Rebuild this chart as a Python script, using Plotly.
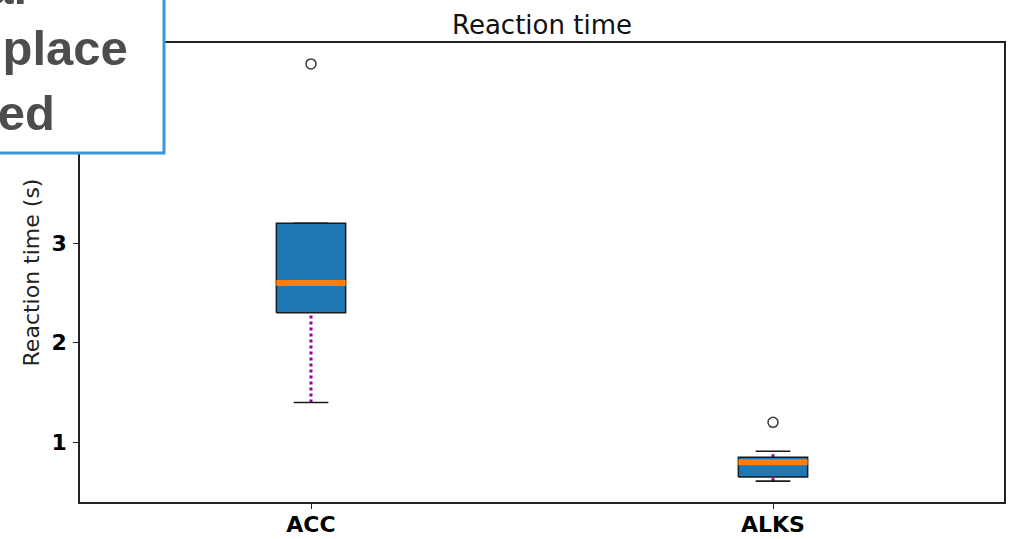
import plotly.graph_objects as go

# Summary statistics of reaction time per system (seconds)
categories = ["ACC", "ALKS"]
positions = [1, 2]
q1 = [2.30, 0.65]
median = [2.60, 0.80]
q3 = [3.20, 0.85]
whisker_low = [1.40, 0.61]
whisker_high = [3.20, 0.91]
outliers = [[4.80], [1.20]]
y_ticks = [1, 2, 3]

BOX_W = 0.15
BOX_FILL = "#1f77b4"
MEDIAN_COLOR = "#ff7f0e"
WHISKER_COLOR = "#9a009a"
EDGE = "#1a1a1a"

fig = go.Figure()

for p, a, m, b, lo, hi, out in zip(positions, q1, median, q3,
                                   whisker_low, whisker_high, outliers):
    h = BOX_W / 2
    c = BOX_W / 4
    # whiskers (dotted)
    fig.add_trace(go.Scatter(x=[p, p, None, p, p], y=[lo, a, None, b, hi],
                             mode="lines",
                             line=dict(color=WHISKER_COLOR, width=3, dash="dot"),
                             hoverinfo="skip"))
    # caps
    fig.add_trace(go.Scatter(x=[p - c, p + c, None, p - c, p + c],
                             y=[lo, lo, None, hi, hi], mode="lines",
                             line=dict(color=EDGE, width=1.6),
                             hoverinfo="skip"))
    # box
    fig.add_trace(go.Scatter(x=[p - h, p + h, p + h, p - h, p - h],
                             y=[a, a, b, b, a], mode="lines", fill="toself",
                             fillcolor=BOX_FILL,
                             line=dict(color=EDGE, width=1.5),
                             hoverinfo="skip"))
    # median
    fig.add_trace(go.Scatter(x=[p - h, p + h], y=[m, m], mode="lines",
                             line=dict(color=MEDIAN_COLOR, width=6),
                             hoverinfo="skip"))
    # fliers
    fig.add_trace(go.Scatter(x=[p] * len(out), y=out, mode="markers",
                             marker=dict(symbol="circle-open", size=10,
                                         color="#3a3a3a",
                                         line=dict(width=1.5, color="#3a3a3a")),
                             hoverinfo="skip"))

axis_common = dict(showline=True, linecolor="#222222", linewidth=1.5,
                   mirror=True, ticks="outside", ticklen=5, tickwidth=1.2,
                   tickcolor="#222222", showgrid=False, zeroline=False,
                   automargin=False)

fig.update_xaxes(range=[0.5, 2.5], tickvals=positions, ticktext=categories,
                 tickfont=dict(family="DejaVu Sans", size=22, color="black",
                               weight="bold"),
                 ticklabelstandoff=-3, **axis_common)
fig.update_yaxes(range=[0.40, 5.01], tickvals=y_ticks,
                 ticktext=[str(t) for t in y_ticks],
                 tickfont=dict(family="DejaVu Sans", size=22, color="black",
                               weight="bold"),
                 ticklabelstandoff=2,
                 title=dict(text="Reaction time (s)",
                            font=dict(family="DejaVu Sans", size=22,
                                      color="#222222"),
                            standoff=6),
                 **axis_common)

# Note panel in the upper-left corner
PLOT_L, PLOT_R, PLOT_T, PLOT_B = 80, 1004, 43, 502


def px_x(v):
    return (v - PLOT_L) / (PLOT_R - PLOT_L)


def px_y(v):
    return (PLOT_B - v) / (PLOT_B - PLOT_T)


fig.add_shape(type="rect", xref="paper", yref="paper",
              x0=px_x(-40), x1=px_x(164), y0=px_y(153), y1=px_y(-40),
              fillcolor="white", line=dict(color="#3d95d8", width=3),
              layer="above")

note_lines = [("Provisional", 29, -13), ("kept in place", 130, 48),
              ("until confirmed", 57, 113)]
for txt, right, mid in note_lines:
    fig.add_annotation(text=txt, xref="paper", yref="paper",
                       x=px_x(right), y=px_y(mid), xanchor="right",
                       yanchor="middle", showarrow=False,
                       font=dict(family="Liberation Sans", size=49,
                                 color="#4d4d4d", weight="bold"))

fig.update_layout(
    width=1018, height=539,
    margin=dict(l=80, r=14, t=43, b=37),
    paper_bgcolor="white", plot_bgcolor="white",
    showlegend=False,
    title=dict(text="Reaction time", x=0.5, xref="paper", xanchor="center",
               y=1, yref="paper", yanchor="bottom", pad=dict(b=9),
               font=dict(family="DejaVu Sans", size=26, color="#111111")),
)

fig.write_html("out.html")
